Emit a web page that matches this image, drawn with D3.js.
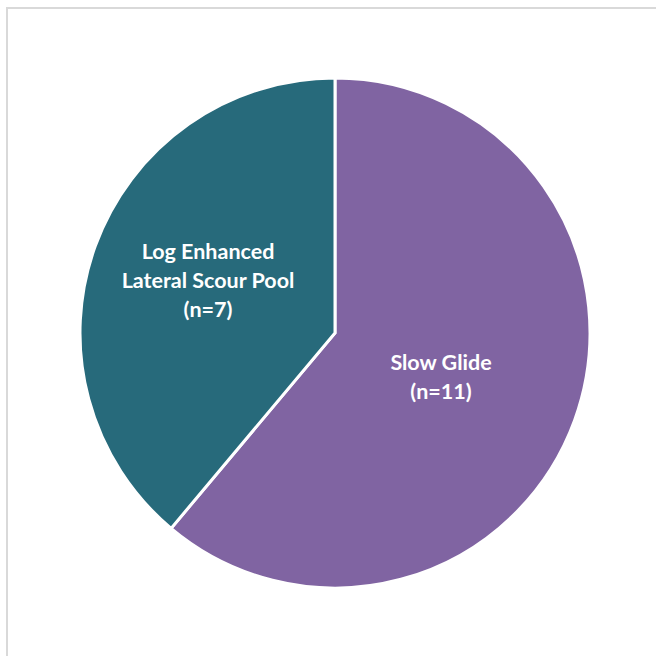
<!DOCTYPE html>
<html><head><meta charset="utf-8">
<script src="https://cdn.jsdelivr.net/npm/d3@7"></script>
<style>html,body{margin:0;padding:0;background:#fff;}svg{display:block;}</style>
</head><body>
<svg id="c" width="656" height="656"></svg>
<script>
const categories = ["Slow Glide", "Log Enhanced Lateral Scour Pool"];
const values = [11, 7];
const labelLines = [["Slow Glide", "(n=11)"], ["Log Enhanced", "Lateral Scour Pool", "(n=7)"]];
const colors = ["#8064a2", "#276a7b"];

const svg = d3.select("#c");
svg.append("rect").attr("x", 7).attr("y", 8).attr("width", 700).attr("height", 700)
  .attr("fill", "#fff").attr("stroke", "#d9d9d9").attr("stroke-width", 2);

const cx = 335, cy = 333, r = 255;
const g = svg.append("g").attr("transform", `translate(${cx},${cy})`);
const pie = d3.pie().sort(null).value(d => d)(values);
const arc = d3.arc().innerRadius(0).outerRadius(r);
g.selectAll("path").data(pie).enter().append("path")
  .attr("d", arc).attr("fill", (d, i) => colors[i])
  .attr("stroke", "#fff").attr("stroke-width", 3).attr("stroke-linejoin", "miter");

const labelPos = [[106, 43], [-127, -53]];
pie.forEach((d, i) => {
  const lines = labelLines[i];
  const t = g.append("text").attr("text-anchor", "middle")
    .attr("font-family", "Lato, 'Open Sans', sans-serif").attr("font-weight", "bold")
    .attr("font-size", 21.5).attr("fill", "#fff");
  const lh = 29;
  lines.forEach((ln, j) => {
    t.append("tspan").attr("x", labelPos[i][0])
      .attr("y", labelPos[i][1] + (j - (lines.length - 1) / 2) * lh + 8).text(ln);
  });
});
</script>
</body></html>
